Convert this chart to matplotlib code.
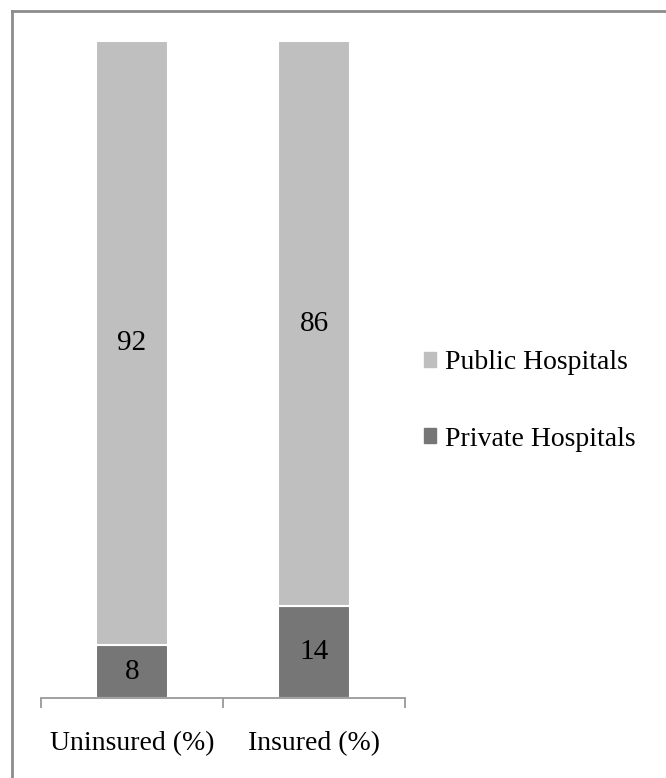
#!/usr/bin/env python3
# --------------------------------- imports ---------------------------------- #
import numpy as np
import matplotlib
matplotlib.use('Agg')
import matplotlib.pyplot as plt
from matplotlib.lines import Line2D
from matplotlib.patches import Patch
# ---------------------------------------------------------------------------- #
categories = ['Uninsured (%)', 'Insured (%)']
private_vals = [8, 14]
public_vals = [92, 86]
series_names = ['Public Hospitals', 'Private Hospitals']

PUBLIC_COLOR = '#bfbfbf'
PRIVATE_COLOR = '#767676'
AXIS_COLOR = '#999999'

plt.rcParams['font.family'] = ['Liberation Serif', 'DejaVu Serif']

# ---------------------- create the figure and axes ---------------------- #
fig = plt.figure(figsize=(6.66, 7.78), dpi=100)
ax = fig.add_axes([41 / 666, 1 - 698 / 778, 364 / 666, 657 / 778])

x = np.arange(len(categories))
width = 0.40

b1 = ax.bar(x, private_vals, width, color=PRIVATE_COLOR, edgecolor='white',
            linewidth=1.5)
b2 = ax.bar(x, public_vals, width, bottom=private_vals, color=PUBLIC_COLOR,
            edgecolor='white', linewidth=1.5)

# ----------------------------- value labels ----------------------------- #
for bars in (b1, b2):
    ax.bar_label(bars, label_type='center', fontsize=21, color='black')

# ------------------------------ axes styling ---------------------------- #
ax.set_xlim(-0.5, len(categories) - 0.5)
ax.set_ylim(0, 100)
for side in ('top', 'right', 'left'):
    ax.spines[side].set_visible(False)
ax.spines['bottom'].set_color(AXIS_COLOR)
ax.spines['bottom'].set_linewidth(1.3)
ax.set_yticks([])
ax.set_xticks(x)
ax.set_xticklabels(categories, fontsize=20)
ax.tick_params(axis='x', which='major', length=0, pad=24)
ax.set_xticks(np.arange(-0.5, len(categories)), minor=True)
ax.tick_params(axis='x', which='minor', length=7, width=1.3,
               color=AXIS_COLOR, direction='out')

# -------------------------------- legend -------------------------------- #
handles = [Patch(color=PUBLIC_COLOR), Patch(color=PRIVATE_COLOR)]
fig.legend(handles, series_names, loc='center left',
           bbox_to_anchor=(410 / 666, 1 - 401 / 778), frameon=False,
           fontsize=20, handlelength=0.45, handleheight=0.45,
           handletextpad=0.3, labelspacing=1.85, borderpad=0)

# -------------------------------- frame --------------------------------- #
fig.add_artist(Line2D([12 / 666, 1], [1 - 11 / 778, 1 - 11 / 778],
                      transform=fig.transFigure, color='#8c8c8c', lw=2))
fig.add_artist(Line2D([12 / 666, 12 / 666], [0, 1 - 11 / 778],
                      transform=fig.transFigure, color='#8c8c8c', lw=2))

fig.savefig('out.png', dpi=100)
